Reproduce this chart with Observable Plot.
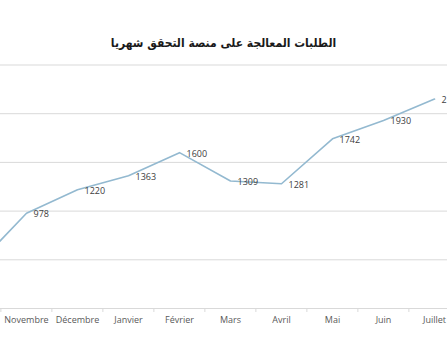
<!DOCTYPE html>
<html>
<head>
<meta charset="utf-8">
<script src="https://cdn.jsdelivr.net/npm/d3@7"></script>
<script src="https://cdn.jsdelivr.net/npm/@observablehq/plot@0.6"></script>
<style>
  html, body { margin: 0; padding: 0; background: #fff; }
  #wrap { position: relative; width: 447px; height: 363px; overflow: hidden; }
  #title { position: absolute; left: 0; width: 447px; top: 36px; text-align: center;
           font-family: "DejaVu Sans Condensed", "DejaVu Sans", sans-serif; font-weight: bold; font-size: 12px;
           color: #1a1a1a; direction: rtl; }
  #chart svg { display: block; overflow: hidden; }
</style>
</head>
<body>
<div id="wrap">
  <div id="chart"></div>
  <div id="title">الطلبات المعالجة على منصة التحقق شهريا</div>
</div>
<script>
const months = ["Octobre", "Novembre", "Décembre", "Janvier", "Février", "Mars", "Avril", "Mai", "Juin", "Juillet"];
const values = [430, 978, 1220, 1363, 1600, 1309, 1281, 1742, 1930, 2150];
const gridValues = [0, 500, 1000, 1500, 2000, 2500];

const data = months.map((m, i) => ({month: m, value: values[i]}));
const step = 51.25;

const chart = Plot.plot({
  width: 447,
  height: 363,
  marginLeft: 0,
  marginRight: 0,
  marginTop: 64.5,
  marginBottom: 55,
  style: {background: "transparent", overflow: "hidden"},
  x: {type: "point", domain: months, range: [-26.25, 435], padding: 0, axis: null},
  y: {domain: [0, 2500], axis: null},
  marks: [
    Plot.ruleY(gridValues, {y: d => d, stroke: "#d9d9d9", strokeWidth: 1}),
    Plot.ruleX(months, {x: d => d, y1: 0, y2: 0, insetBottom: -4, dx: -step / 2, stroke: "#d9d9d9", strokeWidth: 1}),
    Plot.axisX({tickSize: 0, tickPadding: 8, fontSize: 9, fill: "#595959", label: null,
                fontFamily: "Open Sans, sans-serif"}),
    Plot.line(data, {x: "month", y: "value", stroke: "#93b9d0", strokeWidth: 1.6, curve: "linear"}),
    Plot.text(data, {x: "month", y: "value", text: d => String(d.value), textAnchor: "start", dx: 7, dy: 1,
                     fill: "#404040", fontSize: 9, fontFamily: "Open Sans, sans-serif"})
  ]
});
document.getElementById("chart").appendChild(chart);
</script>
</body>
</html>
